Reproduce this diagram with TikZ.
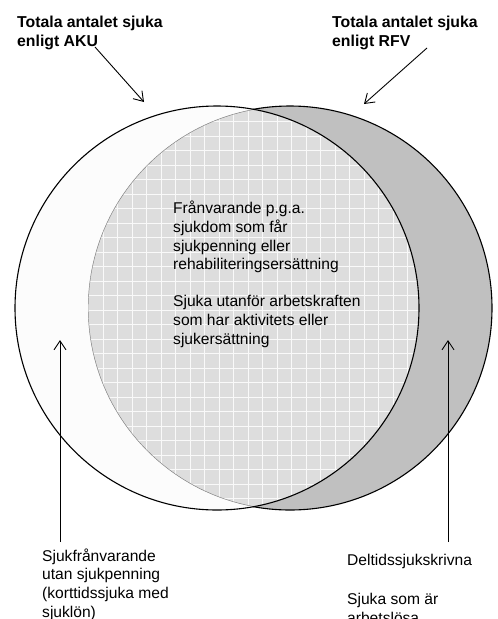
\documentclass[tikz,border=0pt]{standalone}
\usepackage{fontspec}
\setmainfont{Liberation Sans}
\usepackage{xcolor}
\usetikzlibrary{arrows.meta, positioning}
\definecolor{C_LAP}{HTML}{DDDDDD}
\definecolor{C_RFV}{HTML}{C0C0C0}
\definecolor{C_AKU}{HTML}{FCFCFC}
\definecolor{C_EDGE}{HTML}{808080}

\begin{document}
\begin{tikzpicture}[
  x=1pt, y=-1pt,
  title/.style={font=\fontsize{15.8}{19}\selectfont\bfseries, align=left,
                inner sep=0pt, anchor=base west},
  body/.style={font=\fontsize{15.6}{18.6}\selectfont, align=left,
               inner sep=0pt, anchor=base west},
  ring/.style={draw=black, line width=1.1pt},
  pointer/.style={-{Straight Barb[length=9pt, width=12pt]}, line width=0.9pt},
]
\useasboundingbox (0,0) rectangle (498,619);

%% Circles
\coordinate (akuC) at (217,308);
\coordinate (rfvC) at (290,308);
\fill[C_RFV] (rfvC) circle[radius=202pt];
\fill[C_AKU] (akuC) circle[radius=202pt];

%% Overlap with grid
\begin{scope}
  \clip (akuC) circle[radius=202pt];
  \fill[C_LAP] (rfvC) circle[radius=202pt];
  \clip (rfvC) circle[radius=202pt];
  \begin{scope}[y=1pt, shift={(1.8,-5.7)}]
    \draw[white!95!gray, line width=0.8pt, step=14.5] (-20,-640) grid (520,20);
  \end{scope}
  \draw[C_EDGE, line width=0.9pt] (rfvC) circle[radius=202pt];
\end{scope}

%% Outlines
\begin{scope}[even odd rule]
  \clip (-20,-20) rectangle (520,640) (akuC) circle[radius=202pt];
  \draw[ring] (rfvC) circle[radius=202pt];
\end{scope}
\draw[ring] (akuC) circle[radius=202pt];

%% Titles (base = last line)
\node[title] (akuTitle) at (17,46) {Totala antalet sjuka\\enligt AKU};
\node[title] (rfvTitle) at (332,46) {Totala antalet sjuka\\enligt RFV};

%% Texts
\node[body] (core) at (173,344)
  {Frånvarande p.g.a.\\sjukdom som får\\sjukpenning eller\\rehabiliteringsersättning\\[18.6pt]Sjuka utanför arbetskraften\\som har aktivitets eller\\sjukersättning};
\node[body] (shortSick) at (42,617)
  {Sjukfrånvarande\\utan sjukpenning\\(korttidssjuka med\\sjuklön)};
\node[body] (partSick) at (347,623)
  {Deltidssjukskrivna\\[20.4pt]Sjuka som är\\arbetslösa};

%% Arrows
\coordinate (akuTail) at (95,47);
\coordinate (akuTip) at (144,102);
\coordinate (rfvTail) at (427,48);
\coordinate (rfvTip) at (364,104);
\coordinate (shortFoot) at (60,542);
\coordinate (shortTip) at (60,340);
\coordinate (partFoot) at (448,542);
\coordinate (partTip) at (448,340);
\draw[pointer] (akuTail) -- (akuTip);
\draw[pointer] (rfvTail) -- (rfvTip);
\draw[pointer] (shortFoot) -- (shortTip);
\draw[pointer] (partFoot) -- (partTip);

\end{tikzpicture}
\end{document}
